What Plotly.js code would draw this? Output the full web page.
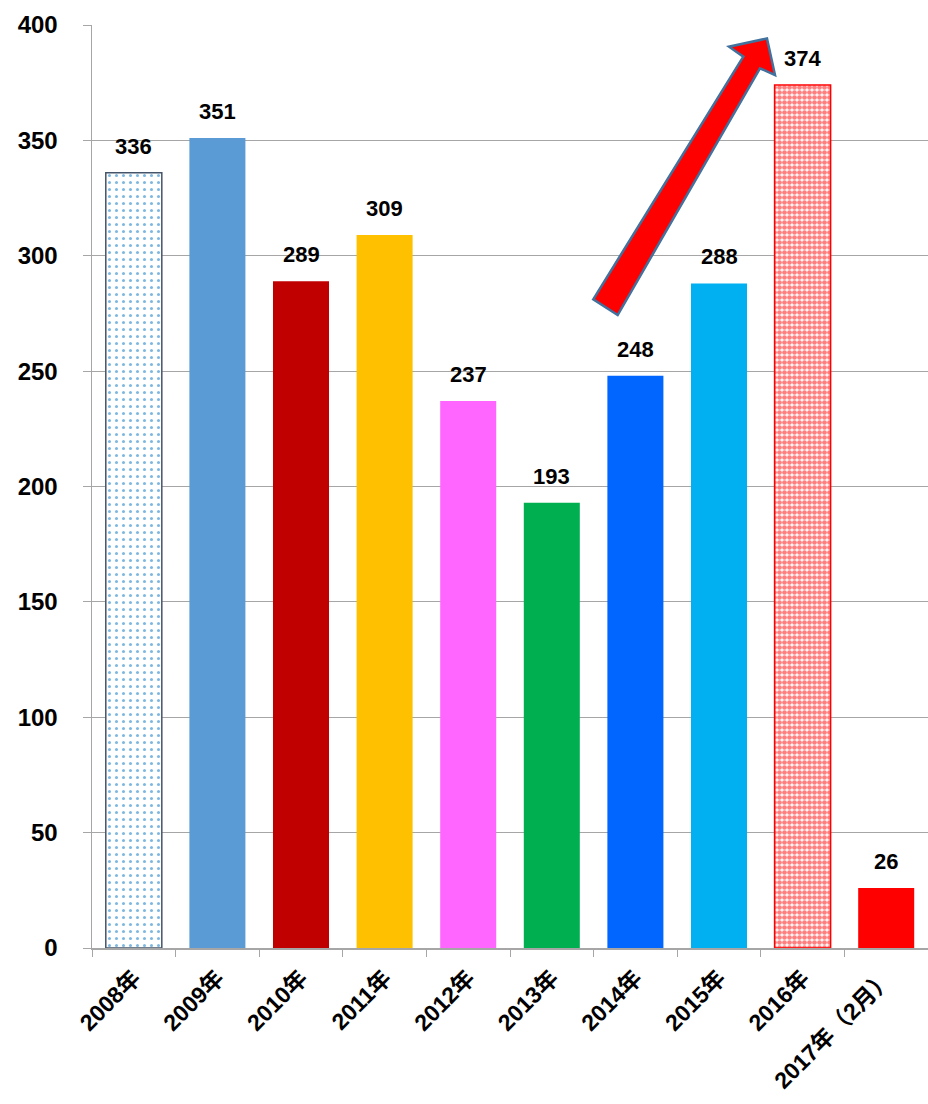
<!DOCTYPE html>
<html><head><meta charset="utf-8">
<script src="https://cdn.plot.ly/plotly-3.0.1.min.js"></script>
<style>body{margin:0;background:#fff}#c{width:928px;height:1104px}</style>
</head><body><div id="c"></div>
<script>
const categories = ["2008年","2009年","2010年","2011年","2012年","2013年","2014年","2015年","2016年","2017年（2月）"];
const values = [336, 351, 289, 309, 237, 193, 248, 288, 374, 26];
const barColors = ["#ffffff","#5b9bd5","#c00000","#ffc000","#ff66ff","#00b050","#0066ff","#00b0f0","#ffffff","#ff0000"];
const lineColors = ["#44546a","#5b9bd5","#c00000","#ffc000","#ff66ff","#00b050","#0066ff","#00b0f0","#ff0000","#ff0000"];
const patternColors = ["#0070c0","","","","","","","","#ff0000",""];
const patternSolidity = [0.15,0,0,0,0,0,0,0,0.7,0];
const patternSizes = [7,0,0,0,0,0,0,0,5,0];

const font = "Liberation Sans, 'Noto Sans CJK JP', sans-serif";
// one trace per bar so each can carry its own fill pattern; overlay keeps category positions
const traces = categories.map((c, i) => ({
  type: "bar", x: [c], y: [values[i]],
  marker: {
    color: barColors[i],
    line: {color: lineColors[i], width: patternColors[i] ? 1.5 : 0},
    pattern: patternColors[i] ? {shape: ".", fgcolor: patternColors[i], bgcolor: "#ffffff", size: patternSizes[i], solidity: patternSolidity[i], fillmode: "overlay"} : {shape: ""}
  },
  hoverinfo: "skip"
}));
const annotations = categories.map((c, i) => ({
  x: c, y: values[i], xref: "x", yref: "y", text: "<b>" + values[i] + "</b>",
  showarrow: false, yanchor: "bottom", yshift: 12,
  font: {family: font, size: 22, color: "#000"}
}));
// arrow in paper coordinates
const L = 92, R = 928, T = 25, B = 948;
const px = v => ((v - L) / (R - L)).toFixed(4);
const py = v => ((B - v) / (B - T)).toFixed(4);
const pts = [[593.3,299.3],[743.3,56.7],[729,46.7],[767,38.5],[775,75],[760,68.3],[617.7,315]];
const path = "M" + pts.map(p => px(p[0]) + "," + py(p[1])).join(" L") + " Z";
const layout = {
  width: 928, height: 1104,
  margin: {l: 92, r: 0, t: 25, b: 156},
  paper_bgcolor: "#fff", plot_bgcolor: "#fff",
  showlegend: false, bargap: 0.33, barmode: "overlay",
  font: {family: font, color: "#000"},
  xaxis: {
    type: "category", categoryorder: "array", categoryarray: categories,
    tickangle: -45, tickson: "boundaries", ticks: "outside", ticklen: 7,
    tickcolor: "#a6a6a6", showline: true, linecolor: "#a6a6a6", linewidth: 1.5,
    ticklabelstandoff: 6,
    tickfont: {family: font, size: 23, color: "#000", weight: "bold"}, showgrid: false
  },
  yaxis: {
    range: [0, 400], dtick: 50, ticks: "outside", ticklen: 8, tickcolor: "#a6a6a6",
    showline: true, linecolor: "#a6a6a6", linewidth: 1.5, ticklabelstandoff: 20,
    gridcolor: "#a6a6a6", gridwidth: 1, zeroline: false,
    tickfont: {family: font, size: 24, color: "#000", weight: "bold"}
  },
  annotations: annotations,
  shapes: [{type: "path", xref: "paper", yref: "paper", path: path,
    fillcolor: "#ff0000", line: {color: "#41719c", width: 2.5}}]
};
Plotly.newPlot("c", traces, layout, {displayModeBar: false, staticPlot: true});
</script></body></html>
